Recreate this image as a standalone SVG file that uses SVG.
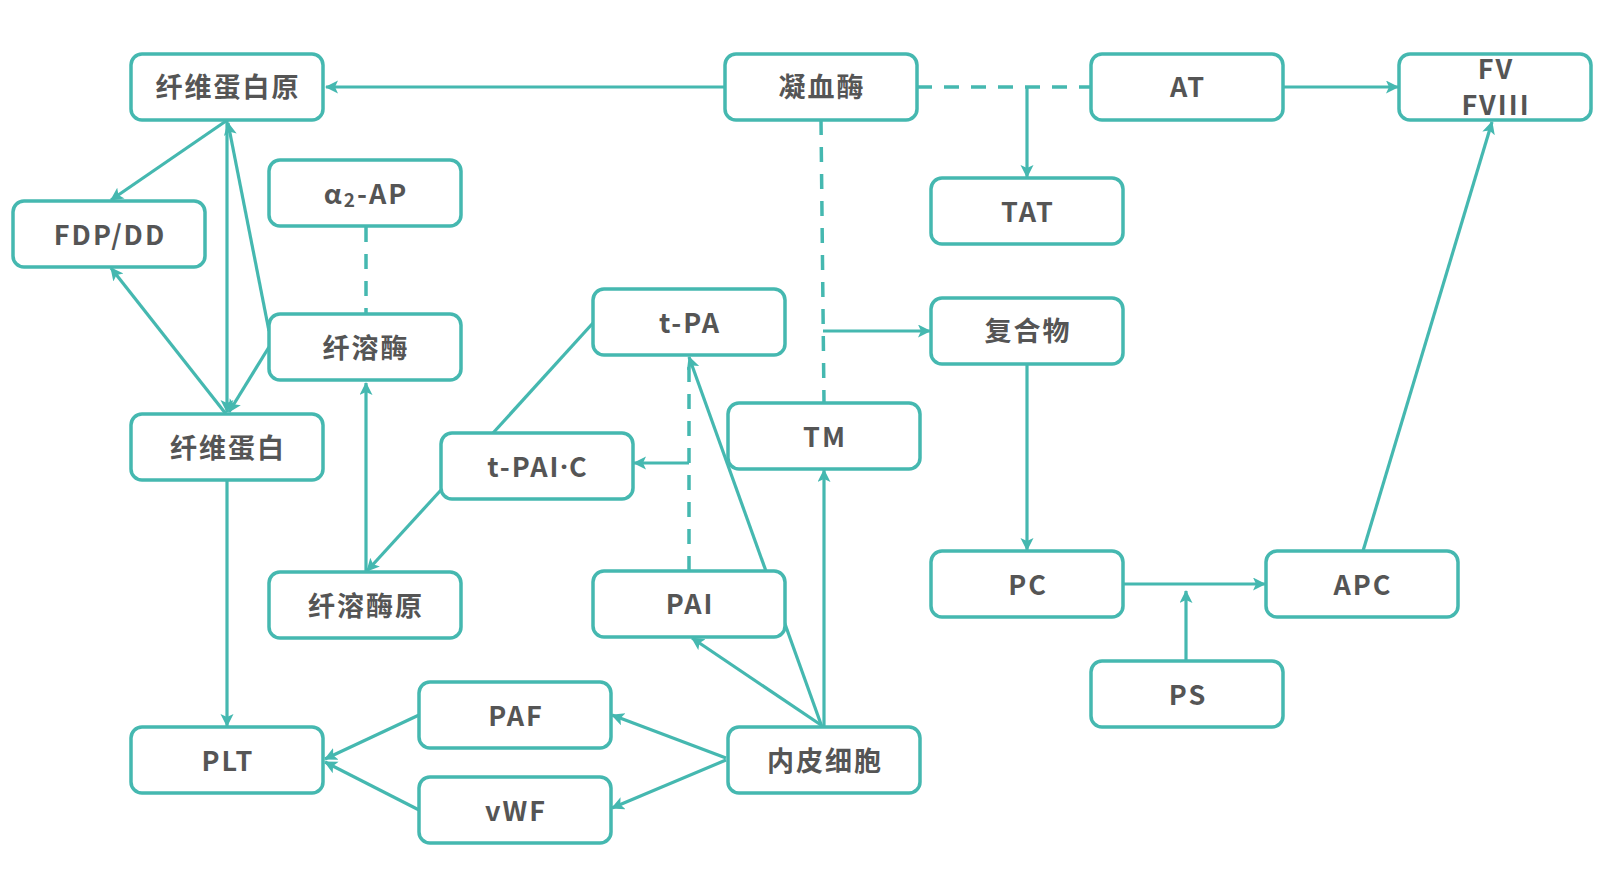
<svg xmlns="http://www.w3.org/2000/svg" width="1613" height="884" viewBox="0 0 1613 884">
<defs>
<style>
.n rect{fill:#fff;stroke:#45B8B0;stroke-width:3.5}
.n text{font-family:"Noto Sans CJK SC","Noto Sans",sans-serif;font-weight:bold;font-size:27px;fill:#555;text-anchor:middle;dominant-baseline:central;letter-spacing:2px}
#edges path{fill:none;stroke:#45B8B0;stroke-width:3.2}
#edges path.a{marker-end:url(#arr)}
#edges path.d{stroke-dasharray:15 12;stroke-width:3.5}
</style>
<marker id="arr" markerUnits="userSpaceOnUse" markerWidth="14" markerHeight="14" refX="12" refY="6.5" orient="auto">
<path d="M0,0 L13,6.5 L0,13 L3,6.5 Z" fill="#45B8B0"/>
</marker>
</defs>
<rect width="1613" height="884" fill="#fff"/>
<g id="edges">
<path class="a" d="M725,87 L326,87"/>
<path class="d" d="M917,87 L1091,87"/>
<path class="a" d="M1027,87 L1027,177"/>
<path class="a" d="M1283,87 L1398,87"/>
<path class="d" d="M821,120 L824,403"/>
<path class="a" d="M823,331 L930,331"/>
<path class="a" d="M1027,364 L1027,550"/>
<path class="a" d="M1123,584 L1265,584"/>
<path class="a" d="M1186,661 L1186,591"/>
<path class="a" d="M1363,551 L1492,122"/>
<path class="a" d="M226,121 L111,200"/>
<path class="a" d="M227,121 L227,412"/>
<path class="a" d="M269,331 L228,123"/>
<path class="a" d="M269,347 L229,412"/>
<path class="a" d="M226,414 L111,268"/>
<path class="d" d="M366,227 L366,314"/>
<path class="a" d="M366,572 L366,383"/>
<path d="M593,323 L493,433"/>
<path class="a" d="M441,490 L367,571"/>
<path class="d" d="M689,571 L689,362"/>
<path class="a" d="M689,463 L634,463"/>
<path class="a" d="M822,727 L689,357"/>
<path class="a" d="M824,727 L824,470"/>
<path class="a" d="M821,725 L692,638"/>
<path class="a" d="M726,758 L612,715"/>
<path class="a" d="M726,760 L612,808"/>
<path class="a" d="M419,715 L325,759"/>
<path class="a" d="M419,810 L325,762"/>
<path class="a" d="M227,480 L227,726"/>
</g>
<g id="fgn" class="n"><rect x="131" y="54" width="192" height="66" rx="11"/><text x="228" y="85">纤维蛋白原</text></g>
<g id="thr" class="n"><rect x="725" y="54" width="192" height="66" rx="11"/><text x="822" y="85">凝血酶</text></g>
<g id="at" class="n"><rect x="1091" y="54" width="192" height="66" rx="11"/><text x="1188" y="85">AT</text></g>
<g id="fv" class="n"><rect x="1399" y="54" width="192" height="66" rx="11"/><text x="1496" y="67">FV</text><text x="1496" y="103">FVIII</text></g>
<g id="fdp" class="n"><rect x="13" y="201" width="192" height="66" rx="11"/><text x="110" y="233">FDP/DD</text></g>
<g id="a2ap" class="n"><rect x="269" y="160" width="192" height="66" rx="11"/><text x="366" y="192">α<tspan font-size="19" dy="6">2</tspan><tspan dy="-6">-AP</tspan></text></g>
<g id="tat" class="n"><rect x="931" y="178" width="192" height="66" rx="11"/><text x="1028" y="210">TAT</text></g>
<g id="tpa" class="n"><rect x="593" y="289" width="192" height="66" rx="11"/><text x="690" y="321">t-PA</text></g>
<g id="pl" class="n"><rect x="269" y="314" width="192" height="66" rx="11"/><text x="366" y="346">纤溶酶</text></g>
<g id="cplx" class="n"><rect x="931" y="298" width="192" height="66" rx="11"/><text x="1028" y="329">复合物</text></g>
<g id="tm" class="n"><rect x="728" y="403" width="192" height="66" rx="11"/><text x="825" y="435">TM</text></g>
<g id="fbn" class="n"><rect x="131" y="414" width="192" height="66" rx="11"/><text x="228" y="446">纤维蛋白</text></g>
<g id="tpaic" class="n"><rect x="441" y="433" width="192" height="66" rx="11"/><text x="538" y="465">t-PAI<tspan font-family="Noto Sans, sans-serif" letter-spacing="1">·</tspan>C</text></g>
<g id="pai" class="n"><rect x="593" y="571" width="192" height="66" rx="11"/><text x="690" y="602">PAI</text></g>
<g id="plg" class="n"><rect x="269" y="572" width="192" height="66" rx="11"/><text x="366" y="604">纤溶酶原</text></g>
<g id="pc" class="n"><rect x="931" y="551" width="192" height="66" rx="11"/><text x="1028" y="583">PC</text></g>
<g id="apc" class="n"><rect x="1266" y="551" width="192" height="66" rx="11"/><text x="1363" y="583">APC</text></g>
<g id="ps" class="n"><rect x="1091" y="661" width="192" height="66" rx="11"/><text x="1188" y="693">PS</text></g>
<g id="paf" class="n"><rect x="419" y="682" width="192" height="66" rx="11"/><text x="516" y="714">PAF</text></g>
<g id="plt" class="n"><rect x="131" y="727" width="192" height="66" rx="11"/><text x="228" y="759">PLT</text></g>
<g id="ec" class="n"><rect x="728" y="727" width="192" height="66" rx="11"/><text x="825" y="759">内皮细胞</text></g>
<g id="vwf" class="n"><rect x="419" y="777" width="192" height="66" rx="11"/><text x="516" y="809">vWF</text></g>
</svg>
